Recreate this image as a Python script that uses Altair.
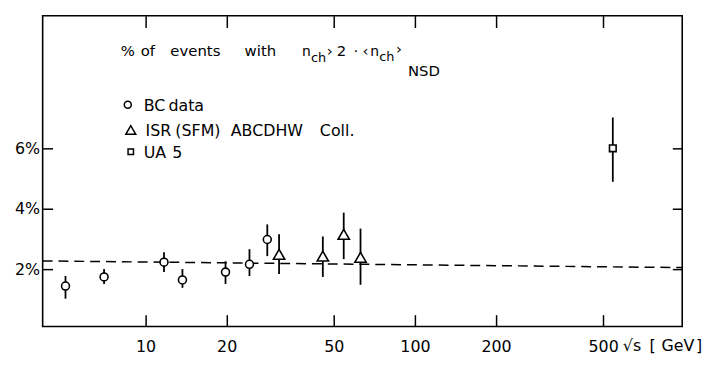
import altair as alt
import pandas as pd

# ---- data ----
bc_x = [5.04, 7.01, 11.7, 13.7, 19.8, 24.3, 28.3]
bc_y = [1.44, 1.74, 2.23, 1.64, 1.90, 2.16, 2.98]
bc_lo = [1.02, 1.51, 1.90, 1.38, 1.51, 1.77, 2.43]
bc_hi = [1.77, 2.00, 2.56, 2.00, 2.26, 2.66, 3.48]

isr_x = [31.3, 45.5, 54.4, 62.8]
isr_y = [2.49, 2.43, 3.15, 2.39]
isr_lo = [1.84, 1.74, 2.33, 1.48]
isr_hi = [3.15, 3.08, 3.87, 3.34]

ua5_x = [543]
ua5_y = [6.0]
ua5_lo = [4.89]
ua5_hi = [7.02]

fit_x = [4.146, 983]
fit_y = [2.27, 2.05]

series = ["BC data", "ISR (SFM) ABCDHW Coll.", "UA 5"]
x_ticks = [10, 20, 50, 100, 200, 500]
y_ticks = [2, 4, 6]
x_domain = [4.146, 983]
y_domain = [0.098, 10.39]

FONT = "DejaVu Sans"

def frame(xs, ys, los, his):
    return pd.DataFrame({"x": xs, "y": ys, "lo": los, "hi": his})

bc_df = frame(bc_x, bc_y, bc_lo, bc_hi)
isr_df = frame(isr_x, isr_y, isr_lo, isr_hi)
ua5_df = frame(ua5_x, ua5_y, ua5_lo, ua5_hi)
fit_df = pd.DataFrame({"x": fit_x, "y": fit_y})

xscale = alt.Scale(type="log", domain=x_domain, nice=False)
yscale = alt.Scale(domain=y_domain, nice=False, zero=False)

axis_common = dict(domain=False, grid=False, tickColor="black", tickWidth=1.5,
                   labelColor="black", labelFont=FONT, labelFontSize=16, title=None)

x_bottom = alt.Axis(orient="bottom", values=x_ticks, format="d", offset=-12, tickSize=12,
                    labelPadding=12, labelFlush=False, labelOverlap=False, **axis_common)
y_left = alt.Axis(orient="left", values=y_ticks, offset=-10, tickSize=10, labelPadding=3,
                  labelExpr="datum.value + '%'", **axis_common)
x_top = alt.Axis(orient="top", values=x_ticks, offset=-12, tickSize=12, labels=False, **axis_common)
y_right = alt.Axis(orient="right", values=y_ticks, offset=-10, tickSize=10, labels=False, **axis_common)

fit = alt.Chart(fit_df).mark_line(color="black", strokeWidth=1.5, strokeDash=[10, 6]).encode(
    x=alt.X("x:Q", scale=xscale, axis=x_bottom),
    y=alt.Y("y:Q", scale=yscale, axis=y_left),
)

xe = alt.X("x:Q", scale=xscale, axis=x_top)
ye = alt.Y("y:Q", scale=yscale, axis=y_right)

def errbars(d):
    return alt.Chart(d).mark_rule(color="black", strokeWidth=1.8).encode(
        x=xe, y=alt.Y("lo:Q", scale=yscale, axis=y_right), y2="hi:Q"
    )

def points(d, shape, size):
    return alt.Chart(d).mark_point(shape=shape, size=size, filled=True, fill="white",
                                   stroke="black", strokeWidth=1.6, opacity=1).encode(x=xe, y=ye)

def txt(s, x, y, size=15):
    return alt.Chart(pd.DataFrame({"t": [s]})).mark_text(
        align="left", baseline="alphabetic", font=FONT, fontSize=size, color="black"
    ).encode(text="t:N", x=alt.value(x), y=alt.value(y))

def legend_symbol(shape, size, x, y):
    return alt.Chart(pd.DataFrame({"k": [0]})).mark_point(
        shape=shape, size=size, filled=True, fill="white", stroke="black", strokeWidth=1.5, opacity=1
    ).encode(x=alt.value(x), y=alt.value(y))

# legend labels split into words so the wide spacing of the original is kept
bc_words = series[0].split(" ")
isr_words = series[1].split(" ")
ua_words = series[2].split(" ")

texts = [
    txt("%", 79, 41), txt("of", 99, 41), txt("events", 129, 41), txt("with", 204, 41),
    txt("n", 262, 41, 14), txt("ch", 271, 47, 13),
    txt("›", 287, 41), txt("2", 297, 41), txt("·", 314, 41), txt("‹", 323, 41),
    txt("n", 331, 41, 14), txt("ch", 340, 46, 13), txt("›", 357, 39),
    txt("NSD", 369, 61),
    txt(bc_words[0], 102, 96.5, 16), txt(bc_words[1], 127, 96.5, 16),
    txt(isr_words[0], 104, 121.5, 16), txt(isr_words[1], 134, 121.5, 16),
    txt(isr_words[2], 190, 121.5, 16), txt(isr_words[3], 280, 121.5, 16),
    txt(ua_words[0], 102, 143.5, 16), txt(ua_words[1], 131, 143.5, 16),
    txt("√s", 586, 339, 16), txt("[", 613, 339, 16), txt("GeV", 625, 339, 16), txt("]", 660, 339, 16),
]

legend_marks = [
    legend_symbol("circle", 50, 86, 90),
    legend_symbol("triangle-up", 100, 89, 115.5),
    legend_symbol("square", 30, 89, 137.5),
]

upper = alt.layer(
    errbars(bc_df), errbars(isr_df), errbars(ua5_df),
    points(bc_df, "circle", 64), points(isr_df, "triangle-up", 130), points(ua5_df, "square", 45),
    *legend_marks, *texts,
)
chart = alt.layer(fit, upper).resolve_axis(x="independent", y="independent").properties(
    width=646, height=314,
    autosize=alt.AutoSizeParams(type="none"),
    padding={"left": 35, "top": 6, "right": 22, "bottom": 29},
).configure_view(stroke="black", strokeWidth=1.6)

chart.save("out.html", embed_options={"renderer": "svg", "actions": False})
